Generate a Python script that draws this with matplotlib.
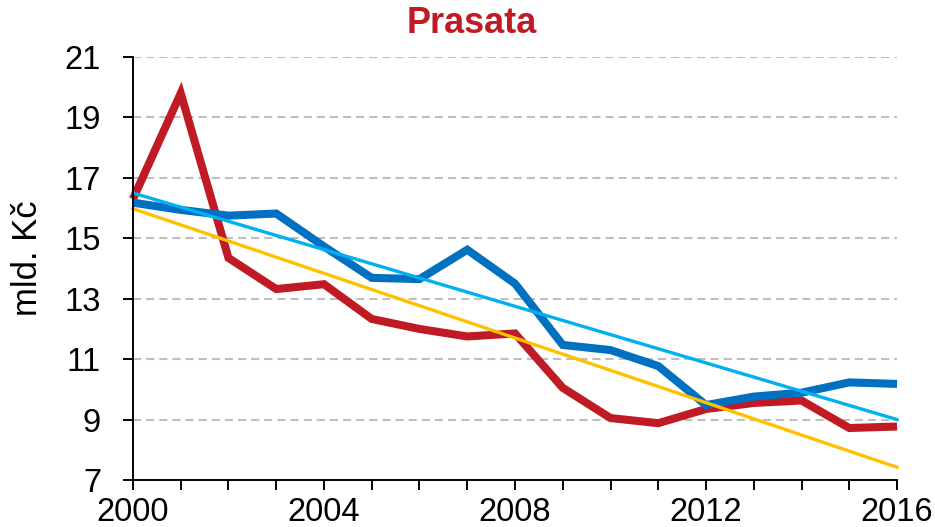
import matplotlib
matplotlib.use("Agg")
import matplotlib.pyplot as plt

years = list(range(2000, 2017))
red_values = [16.3, 19.8, 14.35, 13.32, 13.48, 12.33, 12.0, 11.75, 11.85, 10.05,
              9.05, 8.88, 9.35, 9.55, 9.63, 8.72, 8.77]
blue_values = [16.18, 15.94, 15.75, 15.82, 14.73, 13.69, 13.65, 14.62, 13.5, 11.47,
               11.3, 10.77, 9.48, 9.76, 9.89, 10.23, 10.18]
trend_years = [2000, 2016]
red_trend = [15.98, 7.42]
blue_trend = [16.5, 9.0]

yticks = [7, 9, 11, 13, 15, 17, 19, 21]
xlabel_years = [2000, 2004, 2008, 2012, 2016]

plt.rcParams['font.family'] = ['Liberation Sans', 'DejaVu Sans']

fig = plt.figure(figsize=(9.35, 5.27), dpi=100)
ax = fig.add_axes([0.1422, 0.0892, 0.8172, 0.8026])

ax.plot(years, red_values, color='#C01B24', lw=5.8, solid_capstyle='butt',
        solid_joinstyle='miter', clip_on=False, zorder=3)
ax.plot(years, blue_values, color='#0070C0', lw=5.8, solid_capstyle='butt',
        solid_joinstyle='miter', clip_on=False, zorder=4)
ax.plot(trend_years, red_trend, color='#FFC000', lw=2.4, clip_on=False, zorder=5)
ax.plot(trend_years, blue_trend, color='#00B0F0', lw=2.4, clip_on=False, zorder=5)

ax.set_xlim(2000, 2016)
ax.set_ylim(7, 21)
ax.set_xticks(years)
ax.set_xticklabels([str(y) if y in xlabel_years else '' for y in years])
ax.set_yticks(yticks)
ax.set_yticklabels([str(v) for v in yticks])

for v in yticks[1:]:
    ax.axhline(v, color='#BFBFBF', lw=1.5, dashes=(3.9, 2.4), zorder=1)

for s in ['top', 'right']:
    ax.spines[s].set_visible(False)
for s in ['left', 'bottom']:
    ax.spines[s].set_linewidth(1.4)
    ax.spines[s].set_zorder(6)

ax.tick_params(axis='both', direction='out', width=1.4, labelsize=23.5)
ax.tick_params(axis='y', length=7, pad=16)
ax.tick_params(axis='x', length=7, pad=5)

ax.set_ylabel('mld. Kč', fontsize=25)
ax.yaxis.set_label_coords(-0.116, 0.525)
fig.text(0.505, 0.955, 'Prasata', color='#C01B24', fontsize=26,
         fontweight='bold', ha='center', va='center')

fig.savefig('out.png', dpi=100)
